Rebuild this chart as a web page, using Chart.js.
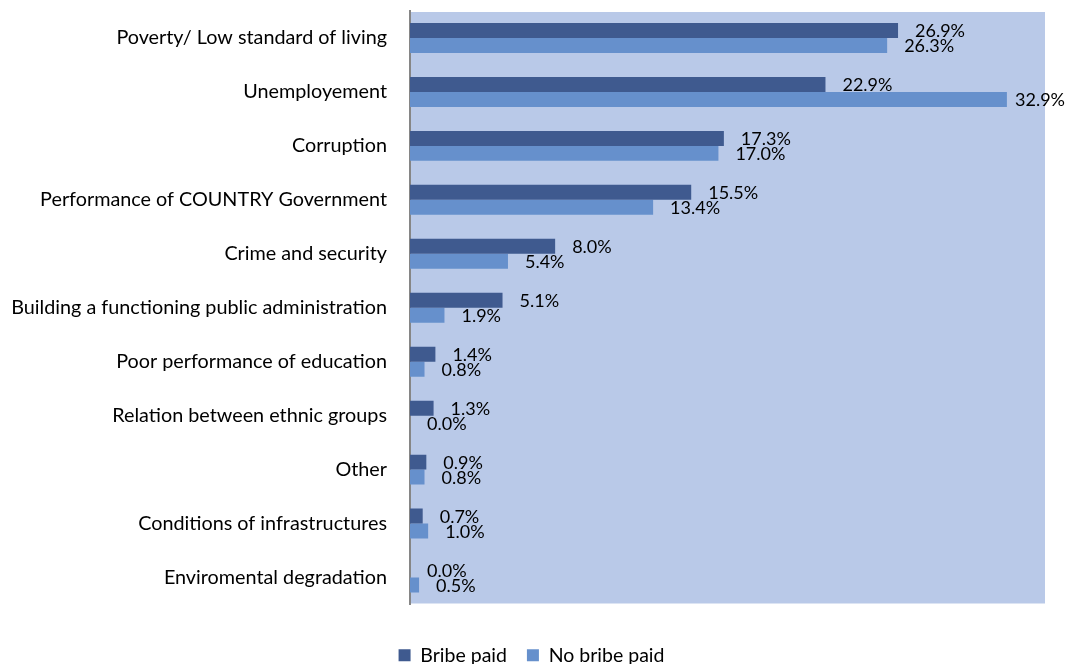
<!DOCTYPE html>
<html lang="en">
<head>
    <meta charset="UTF-8">
    <title>Most important problems</title>
    <script src="https://cdn.jsdelivr.net/npm/chart.js"></script>
    <style>
        html, body { margin: 0; padding: 0; background: #fff; overflow: hidden; }
        #wrap { position: relative; width: 1068px; height: 664px; }
    </style>
</head>
<body>
    <div id="wrap"><canvas id="problemsChart"></canvas></div>

    <script>
        const categories = [
            "Poverty/ Low standard of living",
            "Unemployement",
            "Corruption",
            "Performance of COUNTRY Government",
            "Crime and security",
            "Building a functioning public administration",
            "Poor performance of education",
            "Relation between ethnic groups",
            "Other",
            "Conditions of infrastructures",
            "Enviromental degradation"
        ];
        const bribePaid   = [26.9, 22.9, 17.3, 15.5, 8.0, 5.1, 1.4, 1.3, 0.9, 0.7, 0.0];
        const noBribePaid = [26.3, 32.9, 17.0, 13.4, 5.4, 1.9, 0.8, 0.0, 0.8, 1.0, 0.5];
        const seriesNames = ["Bribe paid", "No bribe paid"];

        const FONT = "Lato, 'Open Sans', sans-serif";

        // light blue plot area behind the bars
        const plotBackground = {
            id: 'plotBackground',
            beforeDraw(chart) {
                const { ctx, chartArea: a } = chart;
                ctx.save();
                ctx.fillStyle = '#b9c9e8';
                ctx.fillRect(a.left, a.top + 1, a.right - a.left, a.bottom - a.top - 2);
                ctx.restore();
            }
        };

        // let the long category names use the space left of the padding
        const wideLabels = {
            id: 'wideLabels',
            afterLayout(chart) {
                chart.scales.y.left = 0;
            }
        };

        // percentage text to the right of each bar
        const valueLabels = {
            id: 'valueLabels',
            afterDatasetsDraw(chart) {
                const { ctx } = chart;
                ctx.save();
                ctx.font = "18px " + FONT;
                ctx.fillStyle = '#000';
                ctx.textBaseline = 'middle';
                chart.data.datasets.forEach((ds, i) => {
                    chart.getDatasetMeta(i).data.forEach((bar, j) => {
                        const txt = ds.data[j].toFixed(1) + '%';
                        const w = ctx.measureText(txt).width;
                        let x = bar.x + 17;
                        if (x + w > chart.width - 3) x = chart.width - 3 - w;
                        ctx.fillText(txt, x, bar.y + 1);
                    });
                });
                ctx.restore();
            }
        };

        new Chart(document.getElementById('problemsChart'), {
            type: 'bar',
            data: {
                labels: categories,
                datasets: [
                    { label: seriesNames[0], data: bribePaid, backgroundColor: '#3f5a8f' },
                    { label: seriesNames[1], data: noBribePaid, backgroundColor: '#6690cc' }
                ]
            },
            options: {
                indexAxis: 'y',
                responsive: true,
                maintainAspectRatio: false,
                animation: false,
                datasets: { bar: { categoryPercentage: 0.555, barPercentage: 1 } },
                layout: { padding: { top: 11, right: 23, left: 18, bottom: -11 } },
                scales: {
                    x: {
                        min: 0, max: 35,
                        grid: { display: false },
                        border: { display: false },
                        ticks: { display: false },
                        afterFit: s => { s.height = 21; }
                    },
                    y: {
                        grid: { display: false, drawTicks: false },
                        border: { display: true, color: '#868686', width: 2 },
                        ticks: { color: '#000', padding: 23, font: { family: FONT, size: 19.8 } },
                        afterFit: s => {
                            s.width = 392;
                            s.paddingTop = 0;
                            s.paddingBottom = 0;
                        }
                    }
                },
                plugins: {
                    legend: {
                        position: 'bottom',
                        labels: {
                            color: '#000',
                            boxWidth: 12, boxHeight: 12,
                            padding: 20,
                            font: { family: FONT, size: 19.5 }
                        }
                    },
                    tooltip: { enabled: false }
                }
            },
            plugins: [plotBackground, wideLabels, valueLabels]
        });
    </script>
</body>
</html>
